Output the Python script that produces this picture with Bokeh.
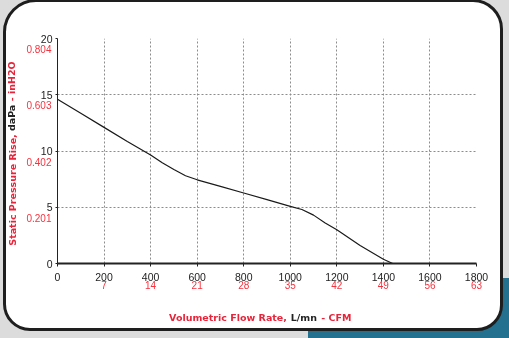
from bokeh.plotting import figure
from bokeh.models import (FixedTicker, LinearAxis, Range1d, GlobalInlineStyleSheet)
from bokeh.embed import file_html
from bokeh.resources import INLINE

# ---- data ----
flow_lmn = [0, 100, 200, 300, 400, 450, 500, 550, 600, 700, 800, 900, 1000,
            1050, 1100, 1150, 1200, 1300, 1400, 1440]
pressure_dapa = [14.6, 13.35, 12.1, 10.85, 9.65, 8.95, 8.35, 7.8, 7.44, 6.85,
                 6.27, 5.68, 5.08, 4.8, 4.3, 3.6, 3.0, 1.6, 0.38, 0.0]

x_ticks = [0, 200, 400, 600, 800, 1000, 1200, 1400, 1600, 1800]
x_labels = ["0", "200", "400", "600", "800", "1000", "1200", "1400", "1600", "1800"]
cfm_ticks = [200, 400, 600, 800, 1000, 1200, 1400, 1600, 1800]
cfm_labels = ["7", "14", "21", "28", "35", "42", "49", "56", "63"]
y_ticks = [0, 5, 10, 15, 20]
y_labels = ["0", "5", "10", "15", "20"]
inh2o_ticks = [5, 10, 15, 20]
inh2o_labels = ["0.201", "0.402", "0.603", "0.804"]

x_title_parts = ["Volumetric Flow Rate,", "L/mn", "- CFM"]
y_title_parts = ["Static Pressure Rise,", "daPa", "- inH2O"]

RED = "#f5333f"
TITLE_RED = "#e8243a"
DARK = "#222222"
GRAY_BG = "#dcdcdc"
TEAL = "#23708f"
TICK_FONT = "Liberation Sans"
TITLE_FONT = "DejaVu Sans"

# page decoration: grey page, teal block, white rounded card
css = f"""
html {{
  background:
    linear-gradient({TEAL},{TEAL}) 308px 278px / 201px 60px no-repeat,
    {GRAY_BG};
}}
body {{ background: transparent; }}
body::before {{
  content: "";
  position: fixed;
  left: 3px; top: -1px; width: 500px; height: 332px;
  box-sizing: border-box;
  border: 3.5px solid #1e1e1e;
  border-radius: 33px 30px 26px 27px;
  background: #ffffff;
  z-index: -1;
}}
"""

W, H = 500, 334
FL, FT, FW, FH = 57, 38, 419, 225   # frame placement in the canvas
PX_PER_Y = FH / 20.0
PX_PER_X = FW / 1800.0

p = figure(width=W, height=H, output_backend="svg", toolbar_location=None,
           x_range=Range1d(0, 1800), y_range=Range1d(0, 20),
           min_border_left=FL, min_border_top=FT,
           min_border_right=W - FL - FW, min_border_bottom=H - FT - FH,
           border_fill_color=None, background_fill_color=None,
           outline_line_color=None)
p.stylesheets = [GlobalInlineStyleSheet(css=css)]

# grids
p.xgrid.ticker = FixedTicker(ticks=x_ticks)
p.ygrid.ticker = FixedTicker(ticks=y_ticks)
for g in (p.xgrid[0], p.ygrid[0]):
    g.grid_line_color = "#8c8c8c"
    g.grid_line_dash = "2 2"
    g.grid_line_width = 1


def bare_axis(**kw):
    return LinearAxis(axis_line_color=None, major_tick_line_color=None,
                      minor_tick_line_color=None, major_tick_out=0,
                      major_tick_in=0, **kw)


# ---- x axes ----
xa = p.xaxis[0]
xa.ticker = FixedTicker(ticks=x_ticks)
xa.major_label_overrides = dict(zip(x_ticks, x_labels))
xa.axis_line_color = DARK
xa.axis_line_width = 2
xa.major_tick_line_color = DARK
xa.major_tick_out = 3
xa.major_tick_in = 0
xa.minor_tick_line_color = None
xa.major_label_standoff = 6
xa.major_label_text_font = TICK_FONT
xa.major_label_text_font_size = "10.5px"
xa.major_label_text_color = DARK

cfm_axis = bare_axis(ticker=FixedTicker(ticks=cfm_ticks),
                     major_label_overrides=dict(zip(cfm_ticks, cfm_labels)),
                     major_label_standoff=-3,
                     major_label_text_font=TICK_FONT,
                     major_label_text_font_size="10px",
                     major_label_text_color=RED)
p.add_layout(cfm_axis, "below")

# x title, drawn as labelled positions in one row (red pieces + black piece)
x_title_pos = [(227.5 - FL) / PX_PER_X, (303.4 - FL) / PX_PER_X, (335.9 - FL) / PX_PER_X]
TITLE_H = 14
xt_red = bare_axis(ticker=FixedTicker(ticks=[x_title_pos[0], x_title_pos[2]]),
                   major_label_overrides={x_title_pos[0]: x_title_parts[0],
                                          x_title_pos[2]: x_title_parts[2]},
                   major_label_standoff=20,
                   major_label_text_font=TITLE_FONT,
                   major_label_text_font_style="bold",
                   major_label_text_font_size="9.5px",
                   major_label_text_color=TITLE_RED)
p.add_layout(xt_red, "below")
xt_dark = bare_axis(ticker=FixedTicker(ticks=[x_title_pos[1]]),
                    major_label_overrides={x_title_pos[1]: x_title_parts[1]},
                    major_label_standoff=-TITLE_H,
                    major_label_text_font=TITLE_FONT,
                    major_label_text_font_style="bold",
                    major_label_text_font_size="9.5px",
                    major_label_text_color=DARK)
p.add_layout(xt_dark, "below")

# ---- y axes ----
ya = p.yaxis[0]
ya.ticker = FixedTicker(ticks=y_ticks)
ya.major_label_overrides = dict(zip(y_ticks, y_labels))
ya.axis_line_color = DARK
ya.axis_line_width = 1
ya.major_tick_line_color = DARK
ya.major_tick_out = 2
ya.major_tick_in = 0
ya.minor_tick_line_color = None
ya.major_label_standoff = 3
ya.major_label_text_font = TICK_FONT
ya.major_label_text_font_size = "10.5px"
ya.major_label_text_color = DARK

# inH2O labels sit ~10.5px under each daPa label: a shifted copy of the y range
shift = 10.5 / PX_PER_Y
p.extra_y_ranges = {"inh2o": Range1d(start=shift, end=20 + shift)}
inh2o_axis = bare_axis(y_range_name="inh2o",
                       ticker=FixedTicker(ticks=inh2o_ticks),
                       major_label_overrides=dict(zip(inh2o_ticks, inh2o_labels)),
                       major_label_standoff=-14,
                       major_label_text_font=TICK_FONT,
                       major_label_text_font_size="10px",
                       major_label_text_color=RED)
p.add_layout(inh2o_axis, "left")

y_title_pos = [(FT + FH - 189.5) / PX_PER_Y, (FT + FH - 117.4) / PX_PER_Y,
               (FT + FH - 80.8) / PX_PER_Y]
yt_red = bare_axis(ticker=FixedTicker(ticks=[y_title_pos[0], y_title_pos[2]]),
                   major_label_overrides={y_title_pos[0]: y_title_parts[0],
                                          y_title_pos[2]: y_title_parts[2]},
                   major_label_orientation="vertical",
                   major_label_standoff=6,
                   major_label_text_font=TITLE_FONT,
                   major_label_text_font_style="bold",
                   major_label_text_font_size="9.5px",
                   major_label_text_color=TITLE_RED)
p.add_layout(yt_red, "left")
yt_dark = bare_axis(ticker=FixedTicker(ticks=[y_title_pos[1]]),
                    major_label_overrides={y_title_pos[1]: y_title_parts[1]},
                    major_label_orientation="vertical",
                    major_label_standoff=-TITLE_H,
                    major_label_text_font=TITLE_FONT,
                    major_label_text_font_style="bold",
                    major_label_text_font_size="9.5px",
                    major_label_text_color=DARK)
p.add_layout(yt_dark, "left")

# ---- curve ----
p.line(flow_lmn, pressure_dapa, line_color="#1a1a1a", line_width=1.2)

open("out.html", "w").write(file_html(p, INLINE))
